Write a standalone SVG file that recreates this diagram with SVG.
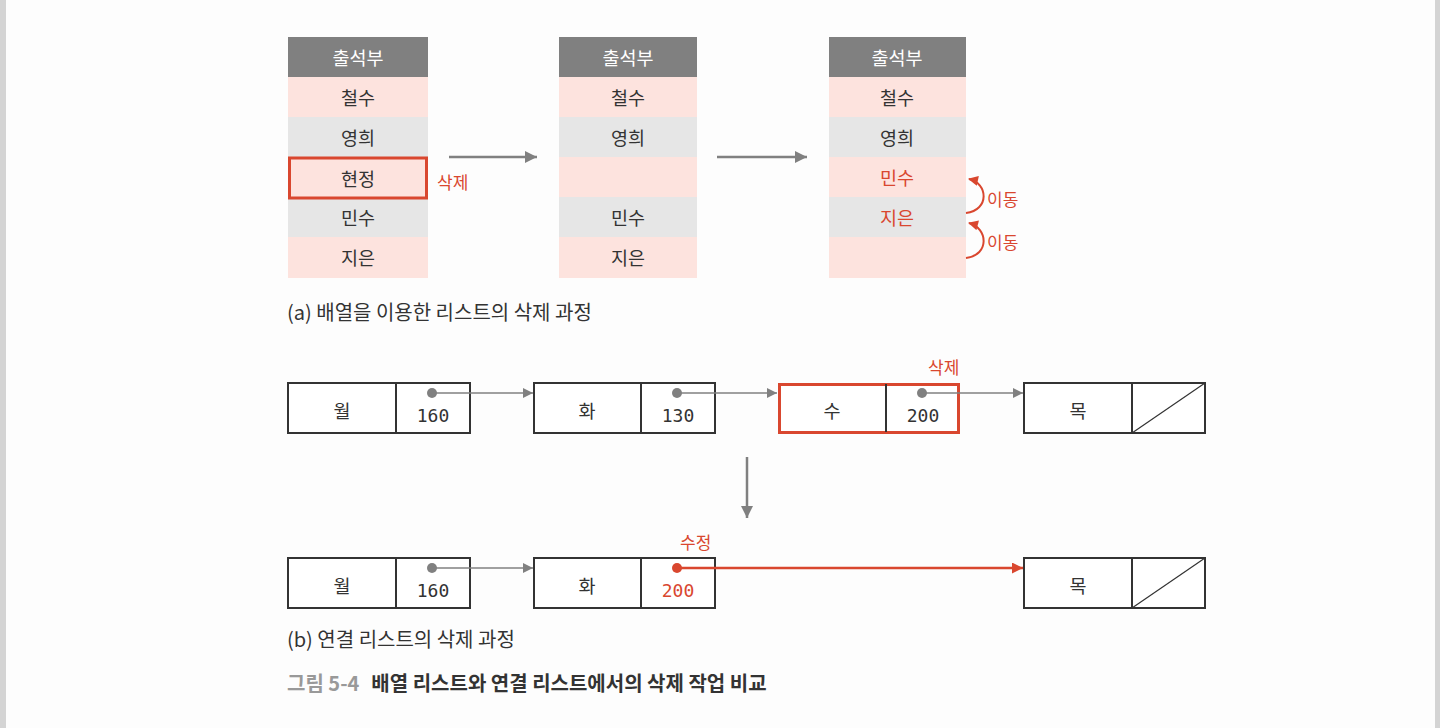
<svg xmlns="http://www.w3.org/2000/svg" width="1440" height="728" viewBox="0 0 1440 728">
<defs>
<style>
.kr{font-family:'Noto Sans CJK KR',sans-serif;}
.t{font-family:'Noto Sans CJK KR',sans-serif;font-size:18.5px;fill:#333;text-anchor:middle;dominant-baseline:central;}
.hd{font-family:'Noto Sans CJK KR',sans-serif;font-size:18.5px;fill:#fff;text-anchor:middle;dominant-baseline:central;}
.mono{font-family:'DejaVu Sans Mono',monospace;font-size:18px;fill:#333;text-anchor:middle;dominant-baseline:central;}
text.red{fill:#d9472f;}
.pk{fill:#fde3de;}
.gr{fill:#e6e6e6;}
.head{fill:#808080;}
.box{fill:#fff;stroke:#333;stroke-width:2;}
.gline{stroke:#808080;stroke-width:1.5;fill:none;}
.garrow{stroke:#808080;stroke-width:2.5;fill:none;}
.rline{stroke:#d9472f;stroke-width:2.5;fill:none;}
.lbl{font-family:'Noto Sans CJK KR',sans-serif;font-size:17px;fill:#d9472f;dominant-baseline:central;}
</style>
<marker id="ga" viewBox="0 0 10 10" refX="10" refY="5" markerWidth="10" markerHeight="10" markerUnits="userSpaceOnUse" orient="auto"><path d="M0,0 L10,5 L0,10 z" fill="#808080"/></marker>
<marker id="gab" viewBox="0 0 10 10" refX="10" refY="5" markerWidth="14" markerHeight="12" markerUnits="userSpaceOnUse" orient="auto"><path d="M0,0 L10,5 L0,10 z" fill="#808080"/></marker>
<marker id="ra" viewBox="0 0 10 10" refX="10" refY="5" markerWidth="12" markerHeight="11" markerUnits="userSpaceOnUse" orient="auto"><path d="M0,0 L10,5 L0,10 z" fill="#d9472f"/></marker>
<marker id="rc" viewBox="0 0 10 10" refX="9" refY="5" markerWidth="11" markerHeight="10" markerUnits="userSpaceOnUse" orient="auto"><path d="M0,0 L10,5 L0,10 z" fill="#d9472f"/></marker>
</defs>
<rect x="0" y="0" width="1440" height="728" fill="#fdfdfd"/>
<rect x="0" y="0" width="6" height="728" fill="#d4d4d4"/>
<rect x="1435" y="0" width="5" height="728" fill="#d4d4d4"/>

<g id="table1">
<rect class="head" x="288" y="37" width="140" height="40"/>
<rect class="pk" x="288" y="77" width="140" height="40"/>
<rect class="gr" x="288" y="117" width="140" height="40"/>
<rect class="pk" x="288" y="157" width="140" height="40"/>
<rect class="gr" x="288" y="197" width="140" height="40"/>
<rect class="pk" x="288" y="237" width="140" height="41"/>
<rect x="289.5" y="158" width="137" height="40" fill="none" stroke="#d9472f" stroke-width="3"/>
<text class="hd" x="358" y="57">출석부</text>
<text class="t" x="358" y="97">철수</text>
<text class="t" x="358" y="137">영희</text>
<text class="t" x="358" y="178">현정</text>
<text class="t" x="358" y="217">민수</text>
<text class="t" x="358" y="257">지은</text>
<text class="lbl" x="437" y="181">삭제</text>
</g>

<g id="table2">
<rect class="head" x="559" y="37" width="138" height="40"/>
<rect class="pk" x="559" y="77" width="138" height="40"/>
<rect class="gr" x="559" y="117" width="138" height="40"/>
<rect class="pk" x="559" y="157" width="138" height="40"/>
<rect class="gr" x="559" y="197" width="138" height="40"/>
<rect class="pk" x="559" y="237" width="138" height="41"/>
<text class="hd" x="628" y="57">출석부</text>
<text class="t" x="628" y="97">철수</text>
<text class="t" x="628" y="137">영희</text>
<text class="t" x="628" y="217">민수</text>
<text class="t" x="628" y="257">지은</text>
</g>

<g id="table3">
<rect class="head" x="829" y="37" width="137" height="40"/>
<rect class="pk" x="829" y="77" width="137" height="40"/>
<rect class="gr" x="829" y="117" width="137" height="40"/>
<rect class="pk" x="829" y="157" width="137" height="40"/>
<rect class="gr" x="829" y="197" width="137" height="40"/>
<rect class="pk" x="829" y="237" width="137" height="41"/>
<text class="hd" x="897" y="57">출석부</text>
<text class="t" x="897" y="97">철수</text>
<text class="t" x="897" y="137">영희</text>
<text class="t red" x="897" y="177">민수</text>
<text class="t red" x="897" y="217">지은</text>
<text class="lbl" x="987" y="198">이동</text>
<text class="lbl" x="987" y="241">이동</text>
</g>

<g id="captionA">
<text class="kr" x="287" y="320" font-size="20" fill="#333">(a) 배열을 이용한 리스트의 삭제 과정</text>
</g>

<g id="n1"><rect class="box" x="288" y="383" width="182" height="50"/><line x1="396" y1="383" x2="396" y2="433" stroke="#333" stroke-width="2"/><text class="t" x="342" y="410">월</text><text class="mono" x="433" y="415">160</text></g>
<g id="n2"><rect class="box" x="534" y="383" width="181" height="50"/><line x1="641" y1="383" x2="641" y2="433" stroke="#333" stroke-width="2"/><text class="t" x="587" y="410">화</text><text class="mono" x="678" y="415">130</text></g>
<g id="n3"><rect x="779.5" y="384.5" width="179" height="48" fill="#fff" stroke="#d9472f" stroke-width="3"/><line x1="886" y1="384" x2="886" y2="432" stroke="#333" stroke-width="2"/><text class="t" x="832" y="410">수</text><text class="mono" x="923" y="415">200</text><text class="lbl" x="928" y="366">삭제</text></g>
<g id="n4"><rect class="box" x="1024" y="383" width="181" height="50"/><line x1="1132" y1="383" x2="1132" y2="433" stroke="#333" stroke-width="2"/><line x1="1132" y1="433" x2="1205" y2="383" stroke="#333" stroke-width="1.2"/><text class="t" x="1078" y="410">목</text></g>

<g id="m1"><rect class="box" x="288" y="558" width="182" height="50"/><line x1="396" y1="558" x2="396" y2="608" stroke="#333" stroke-width="2"/><text class="t" x="342" y="585">월</text><text class="mono" x="433" y="590">160</text></g>
<g id="m2"><rect class="box" x="534" y="558" width="181" height="50"/><line x1="641" y1="558" x2="641" y2="608" stroke="#333" stroke-width="2"/><text class="t" x="587" y="585">화</text><text class="mono red" x="678" y="590">200</text><text class="lbl" x="680" y="541">수정</text></g>
<g id="m4"><rect class="box" x="1024" y="558" width="181" height="50"/><line x1="1132" y1="558" x2="1132" y2="608" stroke="#333" stroke-width="2"/><line x1="1132" y1="608" x2="1205" y2="558" stroke="#333" stroke-width="1.2"/><text class="t" x="1078" y="585">목</text></g>

<g id="connectors">
<line class="garrow" x1="449" y1="157" x2="537" y2="157" marker-end="url(#gab)"/>
<line class="garrow" x1="717" y1="157" x2="807" y2="157" marker-end="url(#gab)"/>
<path d="M966,213 C990,210 988,183 969,179" stroke="#d9472f" stroke-width="2" fill="none" marker-end="url(#rc)"/>
<path d="M966,258 C990,255 988,228 969,223" stroke="#d9472f" stroke-width="2" fill="none" marker-end="url(#rc)"/>
<circle cx="432" cy="393" r="5" fill="#808080"/>
<line class="gline" x1="432" y1="393" x2="533" y2="393" marker-end="url(#ga)"/>
<circle cx="677" cy="393" r="5" fill="#808080"/>
<line class="gline" x1="677" y1="393" x2="777" y2="393" marker-end="url(#ga)"/>
<circle cx="922" cy="393" r="5" fill="#808080"/>
<line class="gline" x1="922" y1="393" x2="1023" y2="393" marker-end="url(#ga)"/>
<line class="garrow" x1="747" y1="457" x2="747" y2="518" marker-end="url(#gab)"/>
<circle cx="432" cy="568" r="5" fill="#808080"/>
<line class="gline" x1="432" y1="568" x2="533" y2="568" marker-end="url(#ga)"/>
<circle cx="677" cy="568" r="5" fill="#d9472f"/>
<line class="rline" x1="677" y1="568" x2="1023" y2="568" marker-end="url(#ra)"/>
</g>

<g id="captionB">
<text class="kr" x="287" y="647" font-size="20" fill="#333">(b) 연결 리스트의 삭제 과정</text>
<text class="kr" x="287" y="691" font-size="20" font-weight="bold" fill="#999">그림 5-4<tspan fill="#333" dx="12">배열 리스트와 연결 리스트에서의 삭제 작업 비교</tspan></text>
</g>
</svg>
